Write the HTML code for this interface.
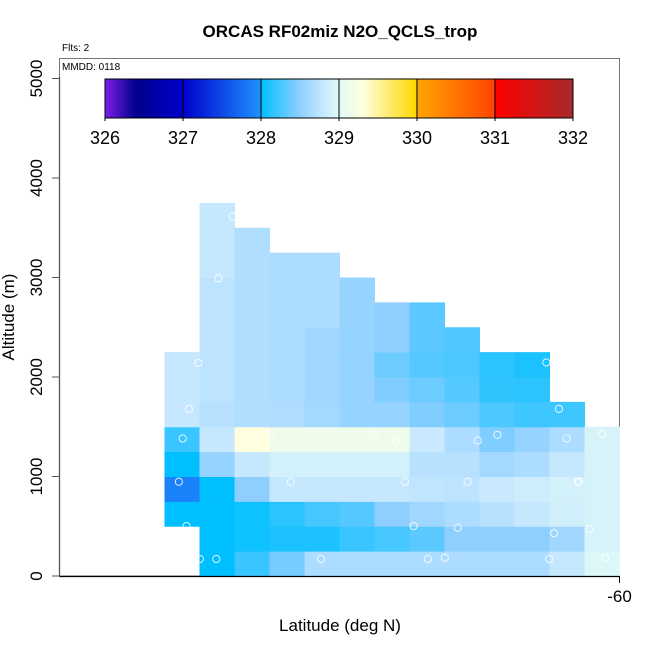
<!DOCTYPE html>
<html><head><meta charset="utf-8"><style>
html,body{margin:0;padding:0;background:#fff;}
svg{display:block;font-family:"Liberation Sans",sans-serif;}
</style></head><body>
<svg id="chart" width="650" height="650" viewBox="0 0 650 650" xmlns="http://www.w3.org/2000/svg">
<text x="340" y="37" text-anchor="middle" font-size="17" font-weight="bold">ORCAS RF02miz N2O_QCLS_trop</text>
<text x="62" y="51" font-size="10">Flts: 2</text>
<rect x="59.5" y="58.5" width="560" height="517.5" fill="none" stroke="#777" stroke-width="1"/>
<g id="cells"></g>
<g id="points"></g>
<text x="62" y="70" font-size="10">MMDD: 0118</text>
<g id="cbar"></g>
<g id="axes"></g>
<text x="340" y="631" text-anchor="middle" font-size="17">Latitude (deg N)</text>
<text transform="translate(14,317) rotate(-90)" text-anchor="middle" font-size="17">Altitude (m)</text>
</svg>
<script>
// ---- data ----
var latEdges = [-73,-72,-71,-70,-69,-68,-67,-66,-65,-64,-63,-62,-61,-60];
var altStep = 250;
// per column: first row index, then values from bottom upward (ppb)
var colStart = [2,0,0,0,0,0,0,0,0,0,0,0,0];
var colValues = [
 [328.0,327.9,328.0,328.2,328.8,328.8,328.8],
 [328.0,328.0,328.0,328.0,328.55,328.8,328.72,328.75,328.75,328.75,328.75,328.75,328.8,328.8,328.8],
 [328.2,328.05,328.05,328.5,328.8,329.3,328.68,328.68,328.68,328.68,328.68,328.68,328.68,328.68],
 [328.42,328.1,328.15,328.8,328.9,329.15,328.67,328.66,328.66,328.66,328.66,328.66,328.66],
 [328.66,328.1,328.25,328.8,328.9,329.15,328.62,328.6,328.6,328.6,328.66,328.66,328.66],
 [328.66,328.2,328.3,328.8,328.9,329.15,328.55,328.55,328.55,328.55,328.55,328.55],
 [328.66,328.25,328.5,328.8,328.9,329.15,328.55,328.45,328.38,328.5,328.5],
 [328.66,328.32,328.6,328.77,328.72,328.82,328.45,328.38,328.3,328.32,328.32],
 [328.66,328.5,328.66,328.75,328.72,328.66,328.38,328.3,328.27,328.28],
 [328.66,328.5,328.72,328.82,328.62,328.45,328.27,328.17,328.15],
 [328.66,328.5,328.8,328.85,328.66,328.55,328.22,328.15,328.1],
 [328.8,328.6,328.88,328.9,328.8,328.66,328.22],
 [328.97,328.92,328.92,328.92,328.92,328.92]
];
var pointLat = [-71.05,-71.46,-72.03,-72.30,-72.48,-70.59,-69.99,-67.01,-72.59,-69.39,-72.37,-71.99,-71.52,-68.53,
 -62.09,-61.73,-66.39,-64.05,-63.49,-61.51,-60.51,-66.13,-64.34,-61.19,-61.16,-65.88,-64.62,-61.87,-60.86,-65.48,-64.99,-62.01,-60.41];
var pointAlt = [3614,2992,2141,1677,1382,1376,1426,1426,947,947,502,171,171,171,
 2146,1680,1362,1362,1419,1382,1426,947,947,947,947,502,485,429,469,171,184,171,184];
var cbTicks = [326,327,328,329,330,331,332];
// colormap stops
var cmVal = [326.0,326.4,327.0,327.99,328.0,328.5,328.8,329.0,329.3,329.99,330.0,330.99,331.0,332.0];
var cmCol = ["#7B1FE8","#00008B","#0000CD","#1E90FF","#00BFFF","#8ECFFF","#C6E8FF","#E0FAF6","#FFFFE0","#FFD700","#FFA500","#FF4500","#FF0000","#A52A2A"];

// ---- scales ----
var X0=59.5, LAT0=-76, PXDEG=35;
function xs(lat){return X0+(lat-LAT0)*PXDEG;}
function ys(alt){return 576-alt*0.0995;}
var CB0=105, CB1=573;
function cbx(v){return CB0+(v-326)/6*(CB1-CB0);}
function hex(c){return [parseInt(c.substr(1,2),16),parseInt(c.substr(3,2),16),parseInt(c.substr(5,2),16)];}
function cmap(v){
  if(v<=cmVal[0])return cmCol[0];
  for(var i=1;i<cmVal.length;i++){
    if(v<=cmVal[i]){
      var t=(v-cmVal[i-1])/(cmVal[i]-cmVal[i-1]),a=hex(cmCol[i-1]),b=hex(cmCol[i]);
      return "rgb("+[0,1,2].map(function(k){return Math.round(a[k]+(b[k]-a[k])*t);}).join(",")+")";
    }
  }
  return cmCol[cmCol.length-1];
}
var NS="http://www.w3.org/2000/svg";
function mk(tag,attrs,parent){var e=document.createElementNS(NS,tag);for(var k in attrs)e.setAttribute(k,attrs[k]);parent.appendChild(e);return e;}

// heatmap
var gc=document.getElementById("cells");
colValues.forEach(function(vals,c){
  vals.forEach(function(v,j){
    var r=colStart[c]+j;
    var x1=xs(latEdges[c]),x2=xs(latEdges[c+1]),yt=ys((r+1)*altStep),yb=ys(r*altStep);
    var el=mk("rect",{x:x1,y:yt,width:x2-x1+0.5,height:yb-yt+0.5,fill:cmap(v)},gc);
    
    
  });
});
// points
var gp=document.getElementById("points");
pointLat.forEach(function(la,i){
  var el=mk("circle",{cx:xs(la),cy:ys(pointAlt[i]),r:3.6,fill:"none",stroke:"#fff","stroke-width":1,"stroke-opacity":0.85},gp);
  
  
});
// colorbar
var gb=document.getElementById("cbar");
for(var px=CB0;px<CB1;px+=1){
  var v=326+(px+0.5-CB0)/(CB1-CB0)*6;
  var s=mk("rect",{x:px,y:79,width:1.2,height:39,fill:cmap(v)},gb);
  
  
}
var fr=mk("rect",{x:CB0,y:79,width:CB1-CB0,height:39,fill:"none",stroke:"#000","stroke-width":1},gb);


cbTicks.forEach(function(t){
  var l=mk("line",{x1:cbx(t),x2:cbx(t),y1:79,y2:121,stroke:"#000","stroke-width":1},gb);
  
  
  var tx=mk("text",{x:cbx(t),y:144,"text-anchor":"middle","font-size":18},gb);
  tx.textContent=t;
  
  
});
// axes
var ga=document.getElementById("axes");
var yl=mk("line",{x1:59.5,x2:59.5,y1:77,y2:576,stroke:"#555","stroke-width":1.3},ga);


var xl=mk("line",{x1:59.5,x2:619.5,y1:576.5,y2:576.5,stroke:"#000","stroke-width":1.3},ga);


var yTicks=[0,1000,2000,3000,4000,5000];
yTicks.forEach(function(t){
  var l=mk("line",{x1:52,x2:59.5,y1:ys(t),y2:ys(t),stroke:"#555","stroke-width":1},ga);
  
  
  var tx=mk("text",{transform:"translate(42,"+ys(t)+") rotate(-90)","text-anchor":"middle","font-size":17},ga);
  tx.textContent=t;
  
  
});
var xt=mk("line",{x1:xs(-60),x2:xs(-60),y1:576,y2:583,stroke:"#000","stroke-width":1},ga);


var xtl=mk("text",{x:xs(-60),y:602,"text-anchor":"middle","font-size":17},ga);
xtl.textContent="-60";


</script>
</body></html>
